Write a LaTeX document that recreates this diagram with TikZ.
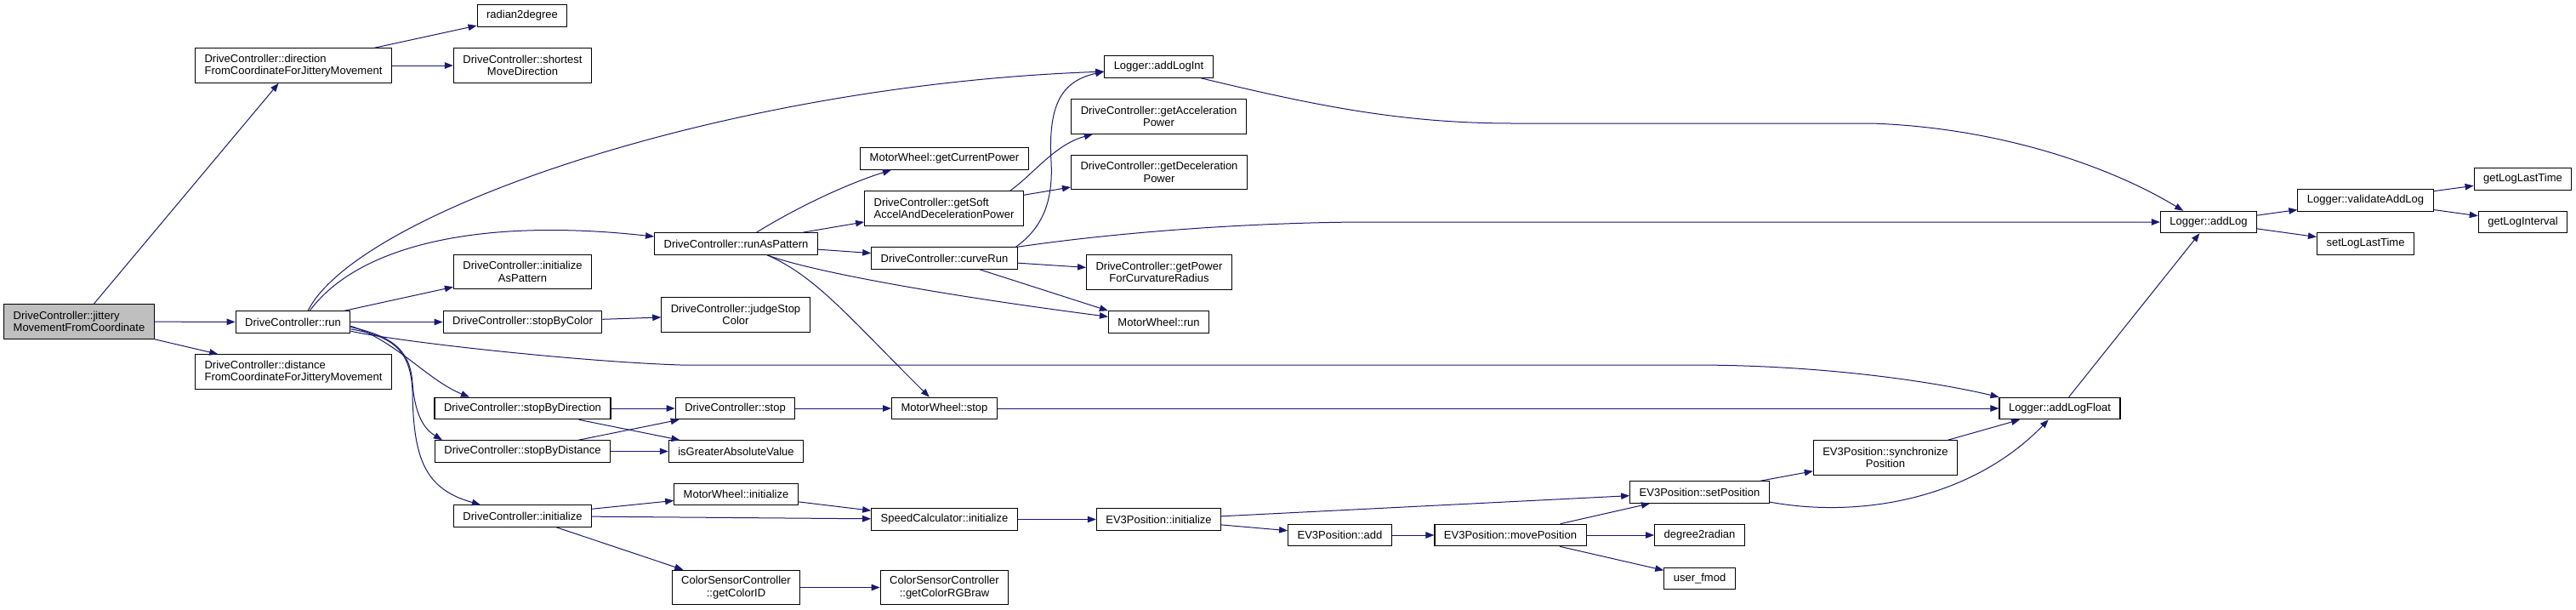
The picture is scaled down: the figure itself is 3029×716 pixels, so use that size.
\documentclass[tikz,border=0pt]{standalone}
\usepackage{fontspec}
\setmainfont{Liberation Sans}
\usetikzlibrary{arrows.meta}
\definecolor{edgeblue}{HTML}{191970}
\definecolor{entrygray}{HTML}{BFBFBF}

\begin{document}
\begin{tikzpicture}[x=1pt, y=-1pt,
  func/.style={draw=black, line width=1.1pt, fill=white,
    font=\fontsize{13}{14.5}\selectfont, inner xsep=11pt, inner ysep=2pt,
    minimum height=25.5pt, align=center},
  tall/.style={minimum height=40.5pt},
  call/.style={draw=edgeblue, line width=1pt, -{Triangle[length=10pt,width=7.5pt]}}]
  \useasboundingbox (0,0) rectangle (3029,716);

  % Caller and first level
  \node[func, tall, fill=entrygray, align=left] (jit) at (93,378) {DriveController::jittery\\MovementFromCoordinate};
  \node[func, tall, align=left] (dir) at (345,77) {DriveController::direction\\FromCoordinateForJitteryMovement};
  \node[func] (run) at (344.5,378.5) {DriveController::run};
  \node[func, tall, align=left] (dist) at (345,437) {DriveController::distance\\FromCoordinateForJitteryMovement};

  \node[func] (rtd) at (614,18.5) {radian2degree};
  \node[func, tall] (shortest) at (614.5,77) {DriveController::shortest\\MoveDirection};
  \node[func, tall] (iap) at (614.5,319.5) {DriveController::initialize\\AsPattern};
  \node[func] (sbc) at (614.5,378.5) {DriveController::stopByColor};
  \node[func] (sbdir) at (614.5,480) {DriveController::stopByDirection};
  \node[func] (sbdist) at (614.5,530.5) {DriveController::stopByDistance};
  \node[func] (dcinit) at (614.5,606.5) {DriveController::initialize};

  \node[func] (rap) at (865.5,286.5) {DriveController::runAsPattern};
  \node[func, tall] (jsc) at (865,370) {DriveController::judgeStop\\Color};
  \node[func] (dcstop) at (864.5,480) {DriveController::stop};
  \node[func] (isgav) at (865.5,530.5) {isGreaterAbsoluteValue};
  \node[func] (mwinit) at (865.5,581) {MotorWheel::initialize};
  \node[func, tall] (gcid) at (865.5,690.5) {ColorSensorController\\::getColorID};

  \node[func] (gcp) at (1110.5,186.5) {MotorWheel::getCurrentPower};
  \node[func, tall, align=left] (gsoft) at (1110,245) {DriveController::getSoft\\AccelAndDecelerationPower};
  \node[func] (crun) at (1110.5,303.5) {DriveController::curveRun};
  \node[func] (mwstop) at (1110.5,480) {MotorWheel::stop};
  \node[func] (spinit) at (1110.5,610.5) {SpeedCalculator::initialize};
  \node[func, tall] (rgb) at (1110.5,690.5) {ColorSensorController\\::getColorRGBraw};

  \node[func] (addint) at (1362.5,78.5) {Logger::addLogInt};
  \node[func, tall] (gacc) at (1362.5,137) {DriveController::getAcceleration\\Power};
  \node[func, tall] (gdec) at (1363,202.5) {DriveController::getDeceleration\\Power};
  \node[func, tall] (gpow) at (1363,320) {DriveController::getPower\\ForCurvatureRadius};
  \node[func] (mwrun) at (1362.5,378.5) {MotorWheel::run};
  \node[func] (evinit) at (1362.5,610.5) {EV3Position::initialize};

  \node[func] (evadd) at (1575.5,629) {EV3Position::add};
  \node[func] (movepos) at (1776,629) {EV3Position::movePosition};
  \node[func] (setpos) at (1998.5,578.5) {EV3Position::setPosition};
  \node[func] (d2r) at (1998.5,629) {degree2radian};
  \node[func] (fmod) at (1998.5,680) {user\_fmod};
  \node[func, tall] (sync) at (2217,538) {EV3Position::synchronize\\Position};
  \node[func] (addfloat) at (2422,480) {Logger::addLogFloat};
  \node[func] (addlog) at (2597,261) {Logger::addLog};
  \node[func] (valid) at (2781.5,235.5) {Logger::validateAddLog};
  \node[func] (setlast) at (2781.5,286.5) {setLogLastTime};
  \node[func] (getlast) at (2966.5,210.5) {getLogLastTime};
  \node[func] (getint) at (2966.5,261) {getLogInterval};

  % Calls from the caller
  \draw[call] (jit) -- (dir);
  \draw[call] (jit) -- (run);
  \draw[call] (jit) -- (dist);
  \draw[call] (dir) -- (rtd);
  \draw[call] (dir) -- (shortest);

  % DriveController::run
  \draw[call] (run.37) .. controls (420,250) and (850,100) .. (addint.185);
  \draw[call] (run.34) .. controls (420,290) and (560,255) .. (rap.175);
  \draw[call] (run) -- (iap);
  \draw[call] (run) -- (sbc);
  \draw[call] (run.-9) .. controls (470,402) and (680,425) .. (800,429) -- (1990,429)
    .. controls (2150,429) and (2280,450) .. (addfloat.north west);
  \draw[call] (run.-4) .. controls (465,400) and (503,447) .. (sbdir.168);
  \draw[call] (run.-5.5) .. controls (460,395) and (482,410) .. (485,450)
    .. controls (488,490) and (500,505) .. (sbdist.172);
  \draw[call] (run.-7) .. controls (460,395) and (483,410) .. (485,460)
    .. controls (486,540) and (500,575) .. (dcinit.165);

  % Stop checks
  \draw[call] (sbc) -- (jsc);
  \draw[call] (sbdir) -- (dcstop);
  \draw[call] (sbdir) -- (isgav);
  \draw[call] (sbdist) -- (dcstop);
  \draw[call] (sbdist) -- (isgav);
  \draw[call] (dcstop) -- (mwstop);

  % Initialisation
  \draw[call] (dcinit) -- (mwinit);
  \draw[call] (dcinit) -- (spinit);
  \draw[call] (dcinit) -- (gcid);
  \draw[call] (mwinit) -- (spinit);
  \draw[call] (gcid) -- (rgb);
  \draw[call] (spinit) -- (evinit);

  % DriveController::runAsPattern
  \draw[call] (rap.29) .. controls (930,248) and (990,218) .. (gcp.192);
  \draw[call] (rap) -- (gsoft);
  \draw[call] (rap) -- (crun);
  \draw[call] (rap.-20) .. controls (950,318) and (1100,346) .. (mwrun.174);
  \draw[call] (rap.-20) .. controls (960,325) and (1000,375) .. (mwstop.143);
  \draw[call] (gsoft.15) .. controls (1215,205) and (1240,170) .. (gacc.195);
  \draw[call] (gsoft) -- (gdec);

  % DriveController::curveRun
  \draw[call] (crun.9) .. controls (1230,265) and (1238,230) .. (1236,190)
    .. controls (1232,120) and (1250,95) .. (addint.185);
  \draw[call] (crun.north east) .. controls (1300,275) and (1450,262) .. (1600,261) -- (addlog.west);
  \draw[call] (crun) -- (gpow);
  \draw[call] (crun) -- (mwrun.north west);

  % Logger
  \draw[call] (addint.-15) .. controls (1550,125) and (1650,145) .. (1780,145) -- (2200,145)
    .. controls (2350,150) and (2480,195) .. (addlog.156);
  \draw[call] (addlog) -- (valid);
  \draw[call] (addlog) -- (setlast);
  \draw[call] (valid) -- (getlast);
  \draw[call] (valid) -- (getint);
  \draw[call] (addfloat) -- (addlog);
  \draw[call] (mwstop) -- (addfloat);

  % EV3Position
  \draw[call] (evinit) -- (setpos);
  \draw[call] (evinit) -- (evadd);
  \draw[call] (evadd) -- (movepos);
  \draw[call] (movepos) -- (setpos);
  \draw[call] (movepos) -- (d2r);
  \draw[call] (movepos) -- (fmod);
  \draw[call] (setpos) -- (sync);
  \draw[call] (setpos.-8) .. controls (2190,610) and (2320,585) .. (addfloat.225);
  \draw[call] (sync) -- (addfloat);

\end{tikzpicture}
\end{document}
